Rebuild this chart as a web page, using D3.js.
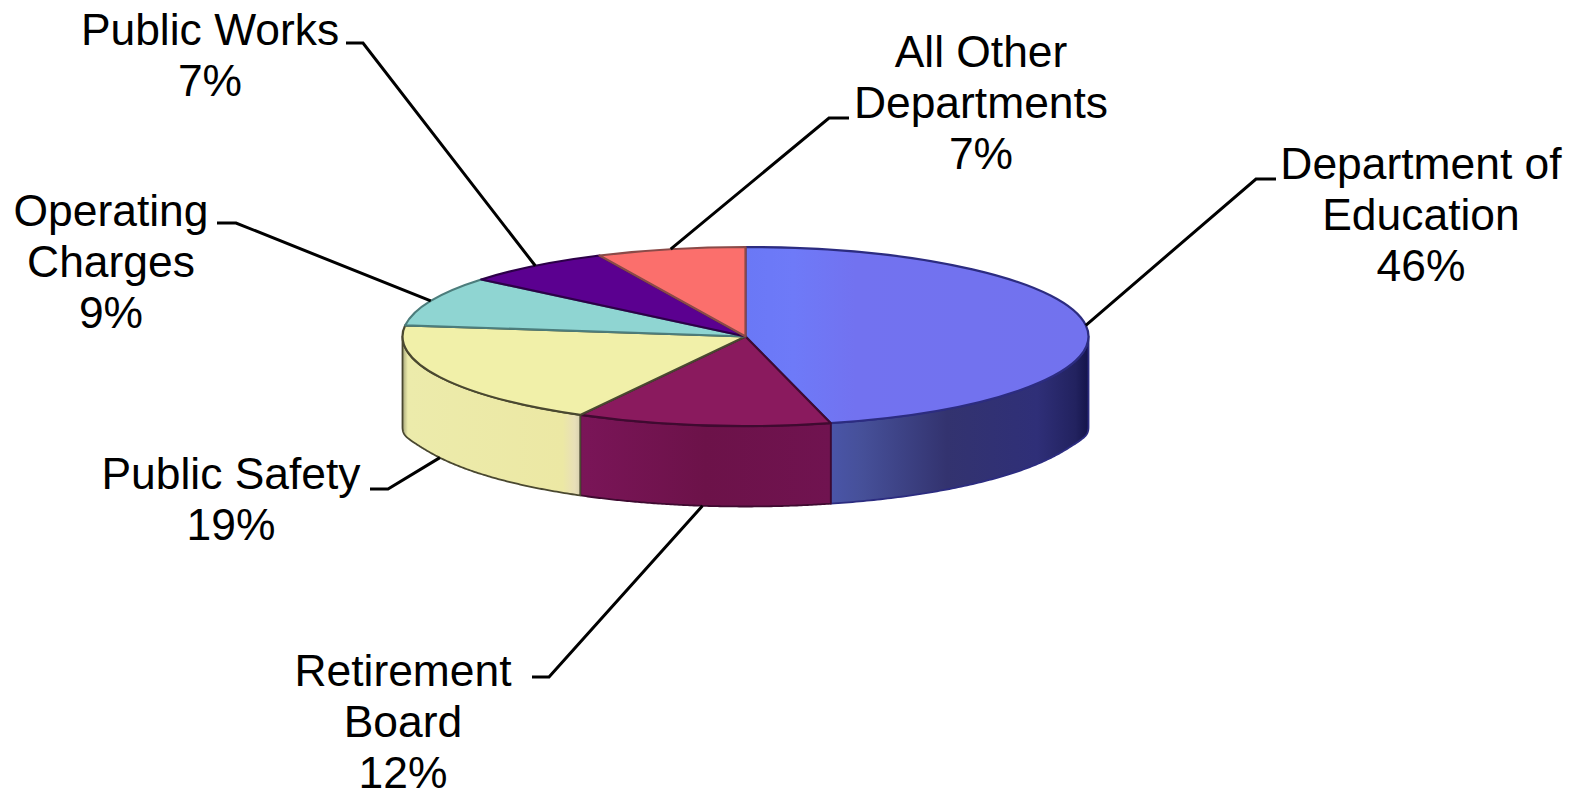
<!DOCTYPE html>
<html>
<head>
<meta charset="utf-8">
<script src="https://cdnjs.cloudflare.com/ajax/libs/d3/7.8.5/d3.min.js"></script>
<style>
  html, body { margin: 0; padding: 0; background: #fff; }
  svg { display: block; }
  text { font-family: "Liberation Sans", Arial, sans-serif; font-size: 44.4px; fill: #000; text-anchor: middle; }
</style>
</head>
<body>
<svg id="chart" width="1577" height="793"></svg>
<script>
// Budget shares, listed clockwise from twelve o'clock
const departments = [
  ["Department of", "Education"],
  ["Retirement", "Board"],
  ["Public Safety"],
  ["Operating", "Charges"],
  ["Public Works"],
  ["All Other", "Departments"]
];
const shares = [46, 12, 19, 9, 7, 7];

const topColors  = ["url(#topBlue)", "#8a1a5e", "#f1f0a9", "#8fd5d2", "#5b0090", "#fb6f6c"];
const edgeColors = ["#2c2c80", "#3f0a30", "#4a4830", "#4c7d7c", "#2c0048", "#8a4a48"];
const sideFills  = ["url(#sideBlue)", "url(#sideMaroon)", "url(#sideYellow)"];

// Label placement: text centre, first baseline, leader elbow and leader stub end
const labelLayout = [
  { cx: 1421, y: 179, elbow: [1256, 179], stub: [1276, 179] },
  { cx: 403,  y: 686, elbow: [549, 677],  stub: [532, 677] },
  { cx: 231,  y: 489, elbow: [388, 489],  stub: [370, 489] },
  { cx: 111,  y: 226, elbow: [236, 223],  stub: [217, 223] },
  { cx: 210,  y: 45,  elbow: [363, 43],   stub: [346, 43] },
  { cx: 981,  y: 67,  elbow: [829, 118],  stub: [849, 118] }
];

const lineGap = 51;
const cx = 745.5, cy = 336.5, rx = 343, ry = 89.5, depth = 80.5, cornerSag = 10;

const svg = d3.select("#chart");

// Horizontal and vertical projection of the unit circle onto the tilted disc
const px = d3.scaleLinear().domain([-1, 1]).range([cx - rx, cx + rx]);
const py = d3.scaleLinear().domain([-1, 1]).range([cy + ry, cy - ry]);
const rimPoint = (a, drop = 0) => [px(Math.sin(a)), py(Math.cos(a)) + drop];
// The lower rim squares off slightly where it meets the side walls
const lowerRimPoint = a => rimPoint(a, depth + cornerSag * Math.pow(Math.abs(Math.sin(a)), 40));

const arcs = d3.pie().sort(null).value(d => d)(shares);

// Gradients for the lit top face and the shaded rim
const defs = svg.append("defs");
function gradient(id, stops, x2 = "100%", y2 = "0%") {
  const g = defs.append("linearGradient").attr("id", id)
    .attr("x1", "0%").attr("y1", "0%").attr("x2", x2).attr("y2", y2);
  stops.forEach(([o, c]) => g.append("stop").attr("offset", o).attr("stop-color", c));
}
gradient("topBlue", [[0, "#6a78f6"], [0.14, "#6e7af8"], [0.32, "#7272f0"], [1, "#7272ee"]]);
gradient("sideBlue", [[0, "#4a55a8"], [0.12, "#465099"], [0.45, "#33336f"], [0.8, "#2f2f78"], [0.95, "#22225f"], [1, "#14144a"]]);
gradient("sideMaroon", [[0, "#7a1558"], [0.5, "#6c1249"], [1, "#701350"]]);
gradient("sideYellow", [[0, "#a6a67a"], [0.03, "#ecebab"], [0.9, "#ece8a4"], [0.97, "#e8dfb8"], [1, "#d8d0b0"]]);

// Rim walls, only for the slices' portions on the front half of the disc
const rimLine = d3.line();
const wallGroup = svg.append("g");
arcs.forEach((d, i) => {
  const a0 = Math.max(d.startAngle, Math.PI / 2);
  const a1 = Math.min(d.endAngle, Math.PI * 1.5);
  if (a1 <= a0) return;
  const steps = d3.range(0, 121).map(k => a0 + (a1 - a0) * k / 120);
  const outline = [
    ...steps.map(a => rimPoint(a, 0)),
    ...steps.slice().reverse().map(lowerRimPoint)
  ];
  wallGroup.append("path")
    .attr("d", rimLine(outline) + "Z")
    .attr("fill", sideFills[i])
    .attr("stroke", edgeColors[i])
    .attr("stroke-width", 1.8)
    .attr("stroke-linejoin", "round");
});

// Top face: a flat pie squashed vertically into the disc's ellipse
const arcGen = d3.arc().innerRadius(0).outerRadius(rx);
svg.append("g")
  .attr("transform", `translate(${cx},${cy}) scale(1,${ry / rx})`)
  .selectAll("path")
  .data(arcs)
  .join("path")
  .attr("d", arcGen)
  .attr("fill", (d, i) => topColors[i])
  .attr("stroke", (d, i) => edgeColors[i])
  .attr("stroke-width", 2.2)
  .attr("stroke-linejoin", "round")
  .style("vector-effect", "non-scaling-stroke");

// Leader lines run from each slice's mid-angle on the visible rim to its label
const leaders = svg.append("g");
arcs.forEach((d, i) => {
  const mid = (d.startAngle + d.endAngle) / 2;
  const front = Math.cos(mid) < 0;
  const anchor = rimPoint(mid, front ? depth : 0);
  const { stub, elbow } = labelLayout[i];
  leaders.append("path")
    .attr("d", d3.line()([stub, elbow, anchor]))
    .attr("fill", "none")
    .attr("stroke", "#000")
    .attr("stroke-width", 3);
});

// Labels: category lines followed by the share
const labels = svg.append("g");
departments.forEach((lines, i) => {
  const text = labels.append("text").attr("y", labelLayout[i].y);
  [...lines, shares[i] + "%"].forEach((line, k) => {
    text.append("tspan")
      .attr("x", labelLayout[i].cx)
      .attr("y", labelLayout[i].y + k * lineGap)
      .text(line);
  });
});
</script>
</body>
</html>
